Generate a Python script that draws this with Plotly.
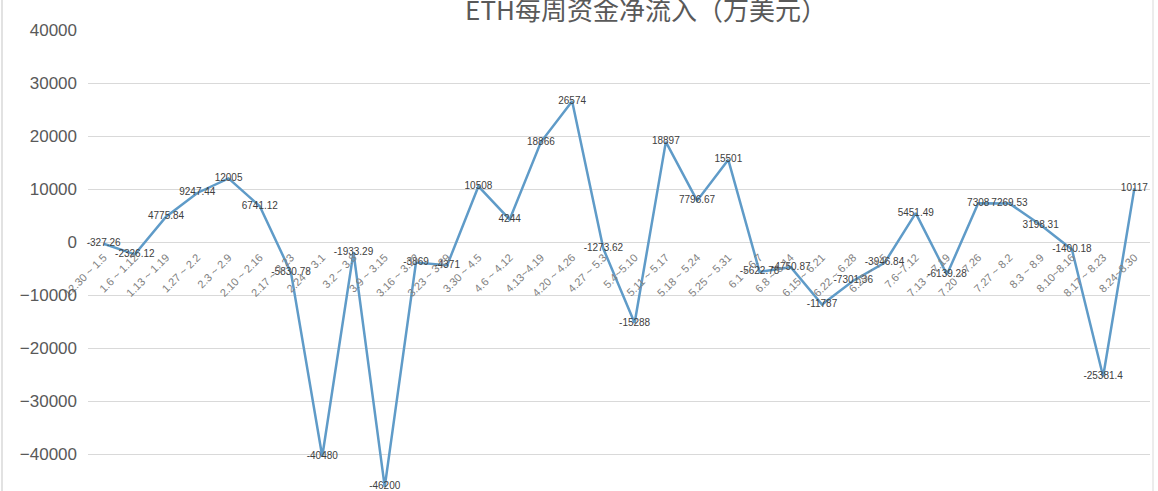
import plotly.graph_objects as go

weeks = ["12.30 ~ 1.5", "1.6 ~ 1.12", "1.13 ~ 1.19", "1.27 ~ 2.2", "2.3 ~ 2.9", "2.10 ~ 2.16",
         "2.17 ~ 2.23", "2.24 ~ 3.1", "3.2 ~ 3.8", "3.9 ~ 3.15", "3.16 ~ 3.22", "3.23 ~ 3.29",
         "3.30 ~ 4.5", "4.6 ~ 4.12", "4.13~4.19", "4.20 ~ 4.26", "4.27 ~ 5.3", "5.4~5.10",
         "5.11 ~ 5.17", "5.18 ~ 5.24", "5.25 ~ 5.31", "6.1 ~ 6.7", "6.8 ~ 6.14", "6.15 ~ 6.21",
         "6.22 ~ 6.28", "6.29 ~ 7.5", "7.6~7.12", "7.13 ~ 7.19", "7.20 ~ 7.26", "7.27 ~ 8.2",
         "8.3 ~ 8.9", "8.10~8.16", "8.17 ~ 8.23", "8.24~8.30"]

net_inflow = [-327.26, -2326.12, 4775.84, 9247.44, 12005, 6741.12,
              -5830.78, -40480, -1933.29, -46200, -3869, -4371,
              10508, 4244, 18866, 26574, -1273.62, -15288,
              18897, 7796.67, 15501, -5622.78, -4750.87, -11787,
              -7301.36, -3946.84, 5451.49, -6139.28, 7308, 7269.53,
              3198.31, -1400.18, -25381.4, 10117]

labels = [f"{v:g}" for v in net_inflow]

W, H = 1158, 491
L, R, T, B = 88, 1150, 30, 491
ymin, ymax = -46981, 40000
zero_pos = (0 - ymin) / (ymax - ymin)

fig = go.Figure()
fig.add_trace(go.Scatter(
    x=weeks, y=net_inflow, mode="lines+text",
    line=dict(color="#5f9bc8", width=2.5),
    text=labels, textposition="middle center",
    textfont=dict(family="Liberation Sans, Arial, sans-serif", size=10, color="#404040"),
    cliponaxis=False, hoverinfo="x+y",
))

fig.update_layout(
    width=W, height=H,
    margin=dict(l=L, r=W - R, t=T, b=H - B, pad=0),
    paper_bgcolor="white", plot_bgcolor="white",
    showlegend=False,
    title=dict(text="ETH每周资金净流入（万美元）", x=646 / W, xanchor="center",
               xref="container", yref="container", y=1 - 11 / H, yanchor="middle",
               font=dict(family="Noto Sans CJK SC, sans-serif", size=26, color="#595959")),
    xaxis=dict(type="category", range=[-0.5, len(weeks) - 0.5], anchor="free",
               position=zero_pos, showgrid=False, showline=False, zeroline=False,
               ticks="", tickangle=-45, ticklabelstandoff=6,
               tickfont=dict(family="Liberation Sans, Arial, sans-serif", size=11, color="#808080")),
    yaxis=dict(range=[ymin, ymax], dtick=10000, tick0=0, tickformat="d",
               showgrid=True, gridcolor="#d9d9d9",
               gridwidth=1, zeroline=True, zerolinecolor="#d9d9d9", zerolinewidth=1,
               showline=False, ticks="", ticklabelstandoff=10,
               tickfont=dict(family="Liberation Sans, Arial, sans-serif", size=17, color="#595959")),
    shapes=[
        dict(type="line", xref="paper", yref="paper", x0=(2 - L) / (R - L), x1=(2 - L) / (R - L),
             y0=-0.1, y1=1.2, line=dict(color="#d9d9d9", width=1.5)),
        dict(type="line", xref="paper", yref="paper", x0=(1153 - L) / (R - L), x1=(1153 - L) / (R - L),
             y0=-0.1, y1=1.2, line=dict(color="#d9d9d9", width=1)),
    ],
)

fig.write_html("out.html", config={"displayModeBar": False},
               post_script="document.body.style.margin='0';document.body.style.overflow='hidden';")
